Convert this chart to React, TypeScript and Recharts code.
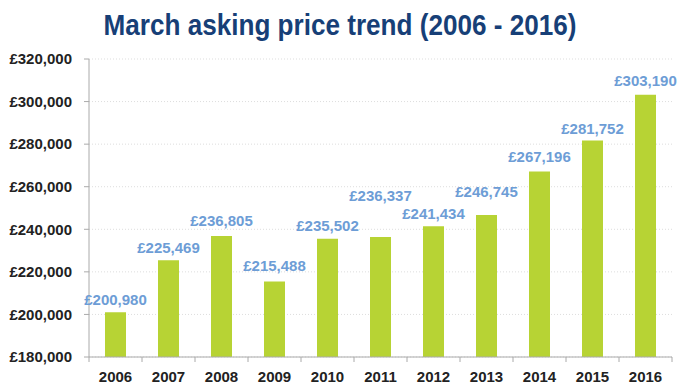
import { Bar, BarChart, CartesianGrid, LabelList, XAxis, YAxis } from 'recharts';

const years = ['2006', '2007', '2008', '2009', '2010', '2011', '2012', '2013', '2014', '2015', '2016'];
const prices = [200980, 225469, 236805, 215488, 235502, 236337, 241434, 246745, 267196, 281752, 303190];
const yTicks = [180000, 200000, 220000, 240000, 260000, 280000, 300000, 320000];

const data = years.map((year, i) => ({ year, price: prices[i] }));

// gap (px) between bar top and its value label, as placed in the original slide
const labelGap = [7, 7, 10, 10, 8, 36, 7, 18, 9, 6, 9];

const FONT = '"Liberation Sans", Arial, sans-serif';
const BAND = (680 - 89 - 8) / years.length;

const fmt = (v: number) => '£' + v.toLocaleString('en-GB');

const XTick = (props: any) => {
  const { x, y, payload, index } = props;
  const half = BAND / 2;
  return (
    <g>
      <line x1={x - half} x2={x - half} y1={y - 8} y2={y - 3} stroke="#aaa" />
      {index === years.length - 1 && <line x1={x + half} x2={x + half} y1={y - 8} y2={y - 3} stroke="#aaa" />}
      <text x={x} y={y + 17} textAnchor="middle" fontSize={15} fontWeight="bold" fill="#222" fontFamily={FONT}>
        {payload.value}
      </text>
    </g>
  );
};

const ValueLabel = (props: any) => {
  const { x, y, width, value, index } = props;
  return (
    <text
      x={x + width / 2}
      y={y - labelGap[index]}
      textAnchor="middle"
      fontSize={15}
      fontWeight="bold"
      fill="#6d9dd6"
      fontFamily={FONT}
    >
      {fmt(Number(value))}
    </text>
  );
};

export default function App() {
  return (
    <div style={{ position: 'absolute', left: 0, top: 0, width: 680, height: 389, background: '#fff' }}>
      <div
        style={{
          position: 'absolute',
          top: 8,
          left: 0,
          width: 680,
          textAlign: 'center',
          fontFamily: '"Liberation Sans", Arial, sans-serif',
          fontWeight: 'bold',
          fontSize: 29,
          lineHeight: '34px',
          color: '#173f77',
          transform: 'scaleX(0.9)',
        }}
      >
        March asking price trend (2006 - 2016)
      </div>
      <BarChart width={680} height={389} data={data} margin={{ top: 59, right: 8, bottom: 0, left: 9 }}>
        <CartesianGrid vertical={false} stroke="#ddd" strokeDasharray="1 2" />
        <XAxis
          dataKey="year"
          height={32}
          stroke="#aaa"
          tickLine={false}
          tick={<XTick />}
          interval={0}
        />
        <YAxis
          width={80}
          domain={[180000, 320000]}
          ticks={yTicks}
          stroke="#aaa"
          tickSize={5}
          tickMargin={12}
          tickFormatter={fmt}
          tick={{ fontSize: 15, fontWeight: 'bold', fill: '#222', fontFamily: FONT }}
          allowDataOverflow
        />
        <Bar dataKey="price" fill="#b7d334" barSize={21} isAnimationActive={false}>
          <LabelList dataKey="price" content={<ValueLabel />} />
        </Bar>
      </BarChart>
    </div>
  );
}
